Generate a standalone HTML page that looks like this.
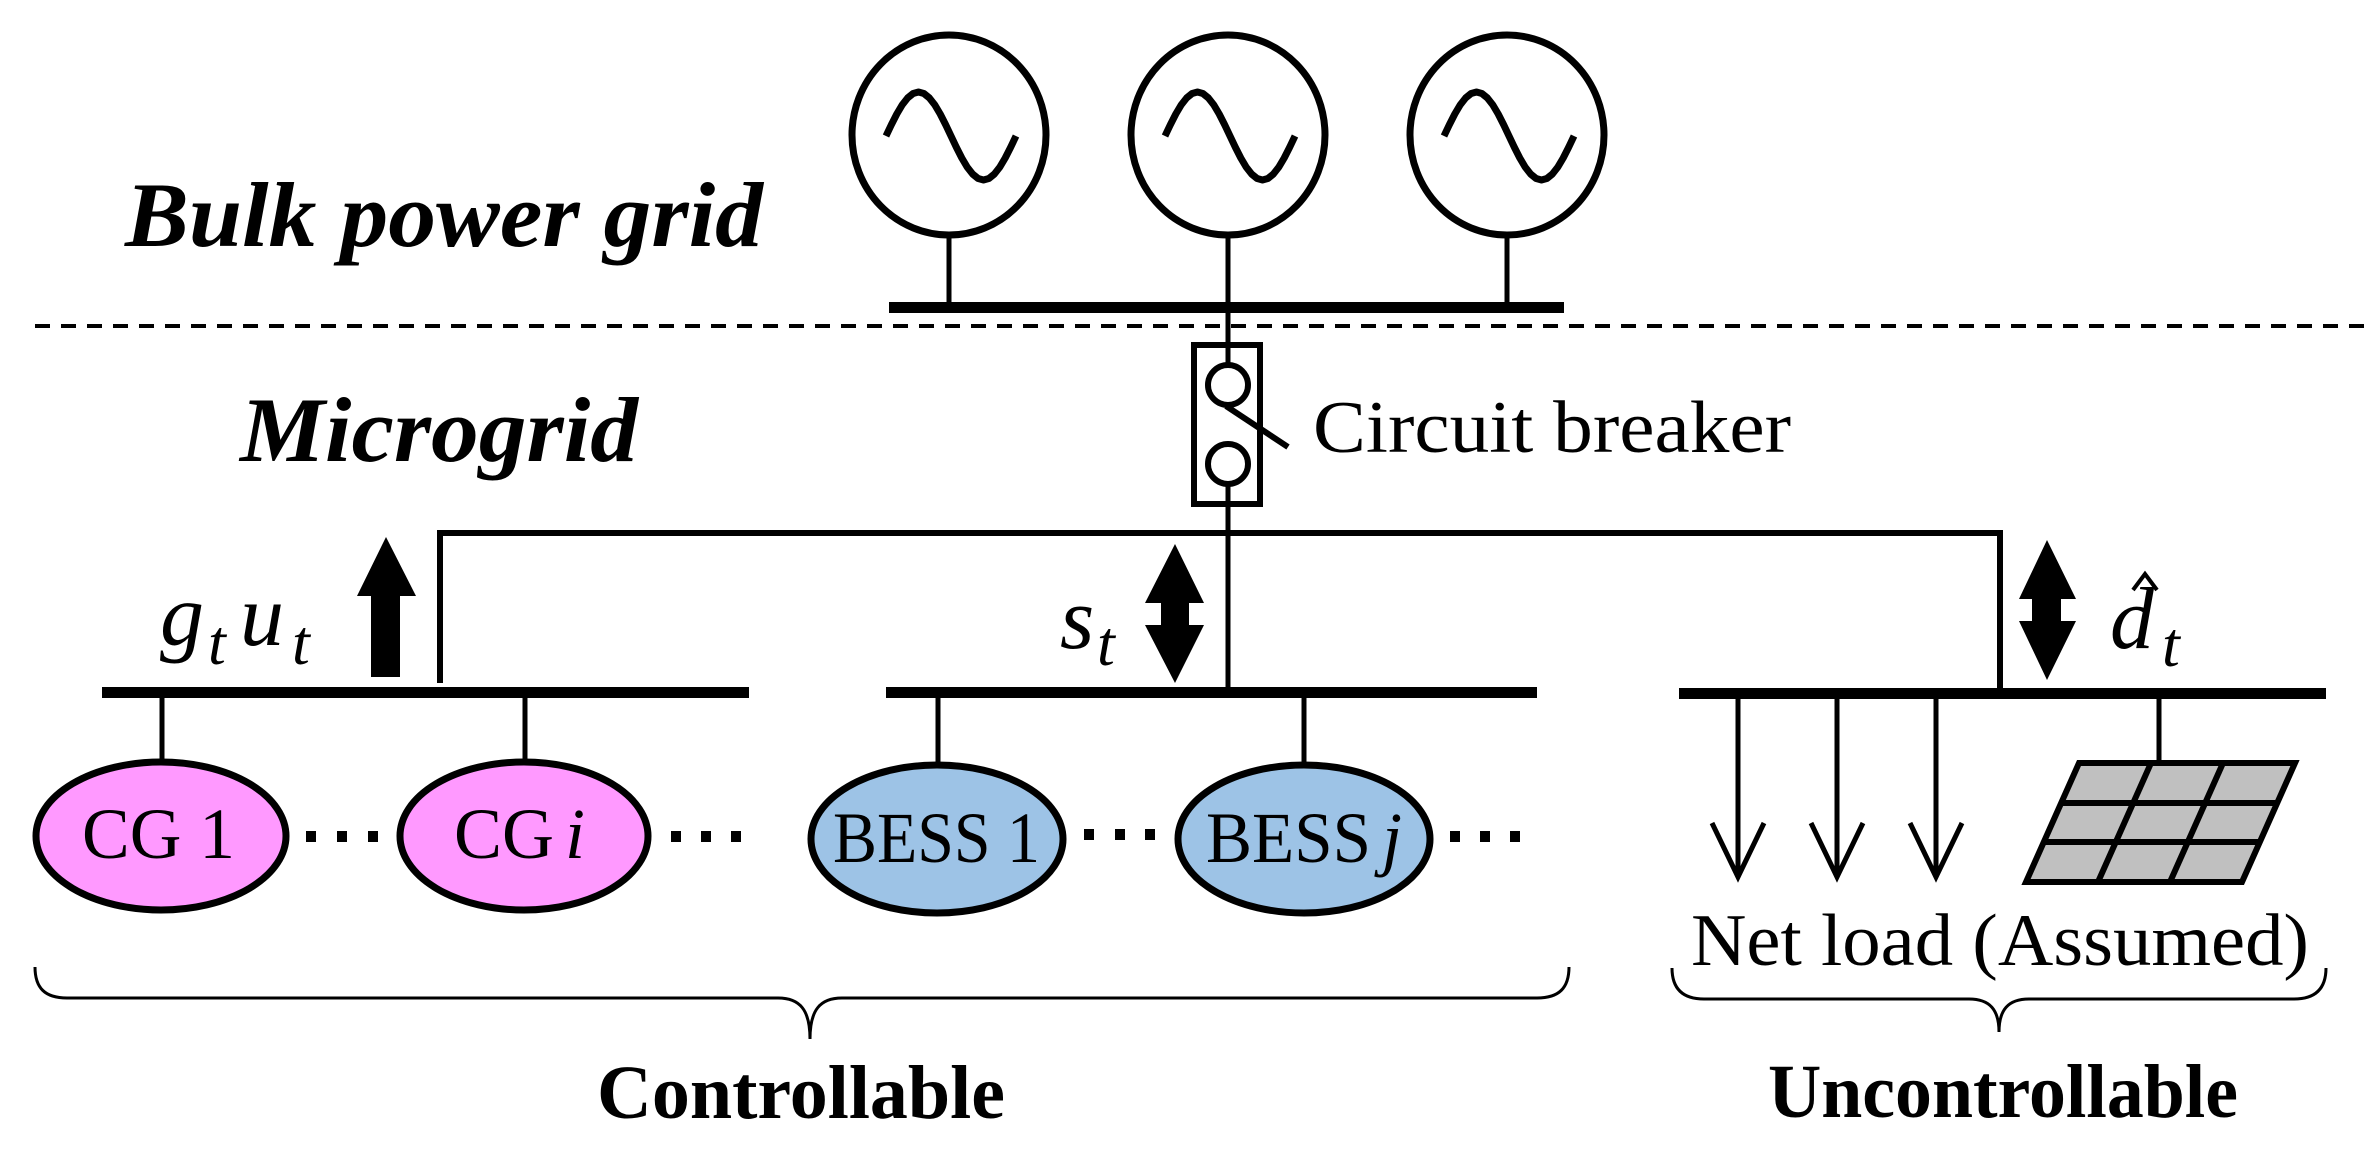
<!DOCTYPE html>
<html><head><meta charset="utf-8"><style>
html,body{margin:0;padding:0;background:#fff;}
svg{display:block;}
text{font-family:"Liberation Serif",serif;fill:#000;}
</style></head><body>
<svg width="2372" height="1156" viewBox="0 0 2372 1156" xmlns="http://www.w3.org/2000/svg">
<defs>
<polyline id="sw" fill="none" stroke="#000" stroke-width="7" stroke-linejoin="round" stroke-linecap="butt" points="-63,0 -57.6,-11.4 -52.2,-22 -46.8,-31.1 -41.3,-38.1 -35.9,-42.5 -30.5,-44 -25.1,-42.5 -19.7,-38.1 -14.2,-31.1 -8.8,-22 -3.4,-11.4 2,0 7.4,11.4 12.8,22 18.2,31.1 23.7,38.1 29.1,42.5 34.5,44 39.9,42.5 45.3,38.1 50.8,31.1 56.2,22 61.6,11.4 67,0"/>
</defs>
<rect width="2372" height="1156" fill="#fff"/>
<g fill="none" stroke="#000" stroke-width="7">
<ellipse cx="949" cy="135" rx="97" ry="100"/>
<ellipse cx="1228" cy="135" rx="97" ry="100"/>
<ellipse cx="1507" cy="135" rx="97" ry="100"/>
</g>
<use href="#sw" x="949" y="136"/>
<use href="#sw" x="1228" y="136"/>
<use href="#sw" x="1507" y="136"/>
<g stroke="#000" stroke-width="5">
<line x1="949" y1="237" x2="949" y2="308"/>
<line x1="1507" y1="237" x2="1507" y2="308"/>
<line x1="1228" y1="237" x2="1228" y2="363"/>
<line x1="1228" y1="486" x2="1228" y2="692"/>
</g>
<rect x="889" y="302" width="675" height="11" fill="#000"/>
<line x1="35" y1="326" x2="2372" y2="326" stroke="#000" stroke-width="4" stroke-dasharray="15 11"/>
<rect x="1194" y="345" width="66" height="159" fill="none" stroke="#000" stroke-width="6"/>
<circle cx="1228" cy="385" r="20" fill="#fff" stroke="#000" stroke-width="6"/>
<circle cx="1228" cy="464" r="20" fill="#fff" stroke="#000" stroke-width="6"/>
<line x1="1226" y1="406" x2="1288" y2="447" stroke="#000" stroke-width="6"/>
<text x="1313" y="452" font-size="74" textLength="478" lengthAdjust="spacingAndGlyphs">Circuit breaker</text>
<text x="125" y="246" font-size="92" font-weight="bold" font-style="italic" textLength="638" lengthAdjust="spacingAndGlyphs">Bulk power grid</text>
<text x="240" y="461" font-size="92" font-weight="bold" font-style="italic" textLength="398" lengthAdjust="spacingAndGlyphs">Microgrid</text>
<g stroke="#000" stroke-width="6" fill="none">
<polyline points="440,683 440,533 2000,533 2000,692"/>
</g>
<rect x="102" y="687" width="647" height="11" fill="#000"/>
<rect x="886" y="687" width="651" height="11" fill="#000"/>
<rect x="1679" y="688" width="647" height="11" fill="#000"/>
<polygon points="386,537 416,596 400,596 400,677 371,677 371,596 357,596" fill="#000"/>
<polygon points="1175,544 1204,603 1189,603 1189,625 1204,625 1175,683 1145,625 1161,625 1161,603 1145,603" fill="#000"/>
<polygon points="2047,540 2076,599 2061,599 2061,621 2076,621 2047,680 2019,621 2032,621 2032,599 2019,599" fill="#000"/>
<g font-style="italic">
<text x="160" y="645" font-size="88">g</text>
<text x="208" y="664" font-size="64">t</text>
<text x="240" y="645" font-size="88">u</text>
<text x="292" y="664" font-size="64">t</text>
<text x="1060" y="648" font-size="88">s</text>
<text x="1097" y="665" font-size="64">t</text>
<text x="2110" y="648" font-size="88">d</text>
<text x="2162" y="666" font-size="64">t</text>
</g>
<polyline points="2133,590 2145,574 2157,590" fill="none" stroke="#000" stroke-width="4"/>
<g stroke="#000" stroke-width="5">
<line x1="162" y1="698" x2="162" y2="762"/>
<line x1="525" y1="698" x2="525" y2="762"/>
<line x1="938" y1="698" x2="938" y2="765"/>
<line x1="1304" y1="698" x2="1304" y2="765"/>
<line x1="2159" y1="698" x2="2159" y2="765"/>
</g>
<g stroke="#000" stroke-width="7">
<ellipse cx="161" cy="836" rx="125" ry="74" fill="#ff99ff"/>
<ellipse cx="524" cy="836" rx="124" ry="74" fill="#ff99ff"/>
<ellipse cx="937" cy="839" rx="126" ry="74" fill="#9dc3e6"/>
<ellipse cx="1304" cy="839" rx="126" ry="74" fill="#9dc3e6"/>
</g>
<text x="82" y="858" font-size="72" textLength="153" lengthAdjust="spacingAndGlyphs">CG 1</text>
<text x="454" y="858" font-size="72" textLength="100" lengthAdjust="spacingAndGlyphs">CG</text>
<text x="565" y="858" font-size="72" font-style="italic">i</text>
<text x="833" y="862" font-size="72" textLength="207" lengthAdjust="spacingAndGlyphs">BESS 1</text>
<text x="1206" y="862" font-size="72" textLength="165" lengthAdjust="spacingAndGlyphs">BESS</text>
<text x="1382" y="862" font-size="72" font-style="italic">j</text>
<g fill="#000">
<rect x="306" y="831" width="10" height="11"/><rect x="337" y="831" width="10" height="11"/><rect x="368" y="831" width="10" height="11"/>
<rect x="671" y="831" width="10" height="11"/><rect x="701" y="831" width="10" height="11"/><rect x="731" y="831" width="10" height="11"/>
<rect x="1084" y="829" width="10" height="11"/><rect x="1115" y="829" width="10" height="11"/><rect x="1145" y="829" width="10" height="11"/>
<rect x="1450" y="831" width="10" height="11"/><rect x="1480" y="831" width="10" height="11"/><rect x="1510" y="831" width="10" height="11"/>
</g>
<g stroke="#000" stroke-width="5" fill="none" stroke-linejoin="miter">
<line x1="1738" y1="698" x2="1738" y2="877"/>
<line x1="1837" y1="698" x2="1837" y2="877"/>
<line x1="1936" y1="698" x2="1936" y2="877"/>
<polyline points="1712,823 1738,877 1764,823"/>
<polyline points="1811,823 1837,877 1863,823"/>
<polyline points="1910,823 1936,877 1962,823"/>
</g>
<polygon points="2079,763 2295,763 2242,882 2026,882" fill="#c0c0c0" stroke="#000" stroke-width="6"/>
<g stroke="#000" stroke-width="6">
<line x1="2061" y1="803" x2="2277" y2="803"/>
<line x1="2044" y1="842" x2="2260" y2="842"/>
<line x1="2151" y1="763" x2="2098" y2="882"/>
<line x1="2223" y1="763" x2="2170" y2="882"/>
</g>
<text x="1691" y="965" font-size="74" textLength="618" lengthAdjust="spacingAndGlyphs">Net load (Assumed)</text>
<g fill="none" stroke="#000" stroke-width="3">
<path d="M35,967 C35,988 45,998 67,998 L778,998 C800,998 810,1010 810,1039 C810,1010 820,998 842,998 L1537,998 C1559,998 1569,988 1569,967"/>
<path d="M1672,968 C1672,988 1682,999 1704,999 L1969,999 C1990,999 1999,1010 1999,1032 C1999,1010 2008,999 2029,999 L2294,999 C2316,999 2326,988 2326,968"/>
</g>
<text x="597" y="1118" font-size="76" font-weight="bold" textLength="408" lengthAdjust="spacingAndGlyphs">Controllable</text>
<text x="1768" y="1117" font-size="76" font-weight="bold" textLength="470" lengthAdjust="spacingAndGlyphs">Uncontrollable</text>
</svg>
</body></html>
